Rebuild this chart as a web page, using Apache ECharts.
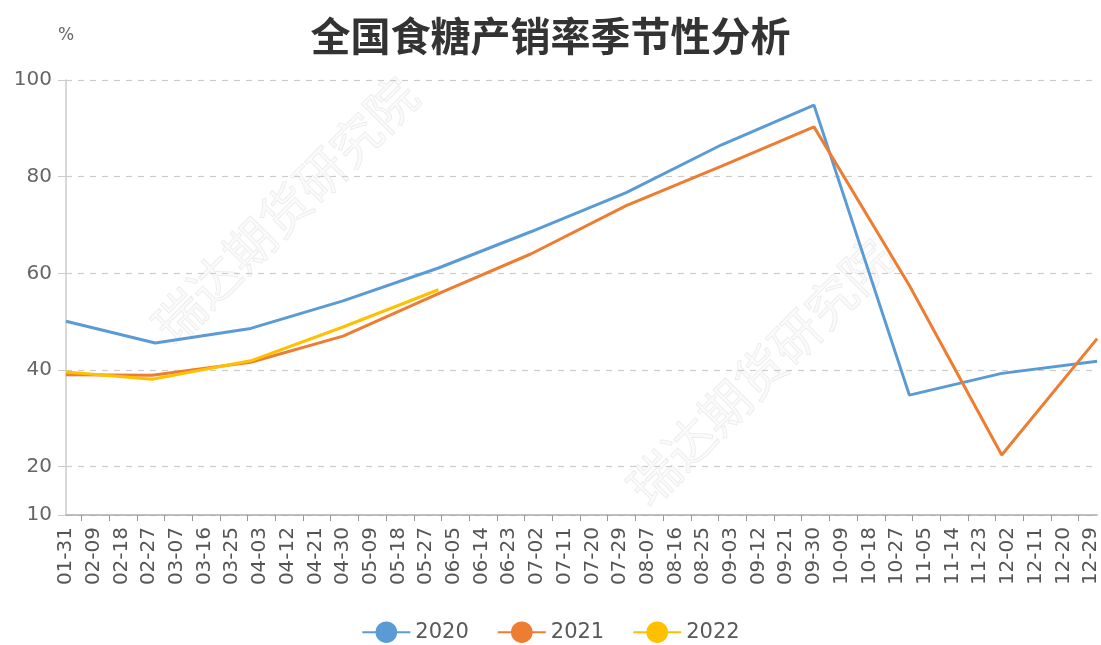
<!DOCTYPE html>
<html>
<head>
<meta charset="utf-8">
<script src="https://cdn.jsdelivr.net/npm/echarts@6/dist/echarts.min.js"></script>
<style>
	html, body { margin: 0; padding: 0; background: #fff; }
	#main { width: 1101px; height: 645px; }
</style>
</head>
<body>
<div id="main"></div>
<script>
// seasonal axis: one category per day of a leap year, 01-31 .. 12-31
var startDay = '2020-01-31';
var endDay = '2020-12-31';

var dates2020 = ['01-31', '02-29', '03-31', '04-30', '05-31', '06-30', '07-31', '08-31', '09-30', '10-31', '11-30', '12-31'];
var rate2020 = [50.1, 45.6, 48.6, 54.3, 61.1, 68.6, 76.7, 86.6, 94.8, 34.8, 39.3, 41.8];

var dates2021 = ['01-31', '02-28', '03-31', '04-30', '05-31', '06-30', '07-31', '08-31', '09-30', '10-31', '11-30', '12-31'];
var rate2021 = [39.0, 38.9, 41.6, 47.0, 55.8, 64.0, 74.0, 82.2, 90.3, 57.5, 22.4, 46.5];

var dates2022 = ['01-31', '02-28', '03-31', '04-30', '05-31'];
var rate2022 = [39.6, 38.1, 41.9, 48.9, 56.6];

var days = [];
for (var d = new Date(startDay + 'T00:00:00Z'); d <= new Date(endDay + 'T00:00:00Z'); d.setUTCDate(d.getUTCDate() + 1)) {
	var mm = String(d.getUTCMonth() + 1).padStart(2, '0');
	var dd = String(d.getUTCDate()).padStart(2, '0');
	days.push(mm + '-' + dd);
}

function pairs(dates, values) {
	var out = [];
	for (var i = 0; i < dates.length; i++) {
		out.push([dates[i], values[i]]);
	}
	return out;
}

var chartDom = document.getElementById('main');
var myChart = echarts.init(chartDom);
var option;

var markFont = 'Noto Sans CJK SC';

function watermark(x, y) {
	return {
		type: 'text',
		x: x, y: y,
		rotation: Math.PI / 4,
		silent: true,
		z: -1,
		style: {
			text: '瑞达期货研究院',
			fontFamily: markFont,
			fontSize: 50,
			align: 'center',
			verticalAlign: 'middle',
			fill: 'rgba(0,0,0,0.02)',
			stroke: 'rgba(0,0,0,0.07)',
			lineWidth: 1
		}
	};
}

option = {
	animation: false,
	color: ['#5b9bd5', '#ed7d31', '#ffc000'],
	title: {
		text: '全国食糖产销率季节性分析',
		left: 'center',
		top: 11,
		textStyle: {
			fontFamily: markFont,
			fontSize: 40,
			fontWeight: 'bold',
			color: '#333'
		}
	},
	legend: {
		bottom: -3,
		left: 'center',
		itemWidth: 48,
		itemHeight: 27,
		itemGap: 28,
		textStyle: {
			fontFamily: 'DejaVu Sans',
			fontSize: 21,
			color: '#595959'
		},
		data: ['2020', '2021', '2022']
	},
	grid: {
		left: 66,
		right: 0,
		top: 80,
		bottom: 130
	},
	xAxis: {
		type: 'category',
		data: days,
		boundaryGap: false,
		axisLine: { lineStyle: { color: '#aaa', width: 1.5 } },
		axisTick: {
			length: 6,
			lineStyle: { color: '#999' },
			interval: function (idx) { return idx % 9 === 5; }
		},
		axisLabel: {
			rotate: 90,
			margin: 12,
			interval: function (idx) { return idx % 9 === 0; },
			fontFamily: 'DejaVu Sans',
			fontSize: 20,
			color: '#555'
		}
	},
	yAxis: {
		type: 'value',
		min: 10,
		max: 100,
		name: '%',
		nameGap: 36,
		nameTextStyle: {
			fontFamily: 'DejaVu Sans',
			fontSize: 17,
			color: '#666'
		},
		axisLine: { show: true, lineStyle: { color: '#ccc', width: 1.5 } },
		axisTick: { show: true, length: 8, lineStyle: { color: '#ccc' } },
		axisLabel: {
			margin: 14,
			fontFamily: 'DejaVu Sans',
			fontSize: 20,
			color: '#666'
		},
		splitLine: {
			lineStyle: { type: [6, 6], color: '#ccc', width: 1.2 }
		}
	},
	graphic: [
		watermark(285, 210),
		watermark(760, 372)
	],
	series: [
		{
			name: '2020',
			type: 'line',
			data: pairs(dates2020, rate2020),
			symbol: 'circle',
			showSymbol: false,
			lineStyle: { width: 3 }
		},
		{
			name: '2021',
			type: 'line',
			data: pairs(dates2021, rate2021),
			symbol: 'circle',
			showSymbol: false,
			lineStyle: { width: 3 }
		},
		{
			name: '2022',
			type: 'line',
			data: pairs(dates2022, rate2022),
			symbol: 'circle',
			showSymbol: false,
			lineStyle: { width: 3 }
		}
	]
};

option && myChart.setOption(option);
</script>
</body>
</html>
